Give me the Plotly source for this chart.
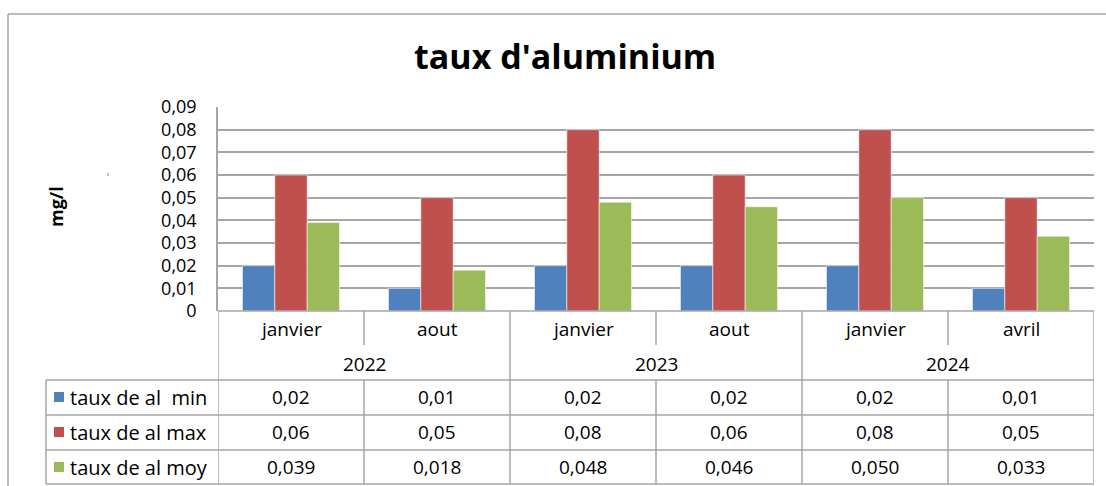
import re

import plotly.graph_objects as go

# données du graphique
years = ["2022", "2023", "2024"]
months = ["janvier", "aout", "janvier", "aout", "janvier", "avril"]
series_names = ["taux de al  min", "taux de al max", "taux de al moy"]
taux_min = [0.02, 0.01, 0.02, 0.02, 0.02, 0.01]
taux_max = [0.06, 0.05, 0.08, 0.06, 0.08, 0.05]
taux_moy = [0.039, 0.018, 0.048, 0.046, 0.050, 0.033]
decimals = [2, 2, 3]

COLORS = ["#4F81BD", "#C0504D", "#9BBB59"]
GRID = "#A6A6A6"
FONT = "Open Sans"
TXT = 19
W, H = 1106, 486


def px(xp):
    return xp / W


def py(yp):
    return (H - yp) / H


x_pos = list(range(len(months)))
fig = go.Figure()
for name, vals, col in zip(series_names, [taux_min, taux_max, taux_moy], COLORS):
    fig.add_trace(go.Bar(
        x=x_pos, y=vals, name=name,
        marker=dict(color=col, line=dict(color="rgba(255,255,255,0.55)", width=1)),
    ))

fig.update_layout(
    width=W, height=H,
    margin=dict(l=0, r=0, t=0, b=0, pad=0, autoexpand=False),
    paper_bgcolor="white", plot_bgcolor="white",
    separators=", ",
    showlegend=False,
    barmode="group", bargap=0.335, bargroupgap=0,
    font=dict(family=FONT, color="#000"),
    xaxis=dict(domain=[px(218), px(1094)], range=[-0.5, 5.5], automargin=False,
               showticklabels=False, showgrid=False, zeroline=False,
               showline=False),
    yaxis=dict(domain=[py(311), py(107)], range=[0, 0.09], dtick=0.01, automargin=False,
               tickformat=".2~f", showgrid=True, gridcolor=GRID, gridwidth=1.5,
               zeroline=False, showline=True, linecolor=GRID, linewidth=1.5,
               tickfont=dict(size=18, family=FONT), ticklabelstandoff=16),
    title=dict(text="<b>taux d'aluminium</b>", x=0.511, xanchor="center",
               y=py(57), yanchor="middle", font=dict(size=34, family=FONT)),
)

shapes = []
line = dict(color=GRID, width=1.5)
# cadre extérieur
shapes.append(dict(type="line", xref="paper", yref="paper", x0=px(8), x1=1.01,
                   y0=py(14), y1=py(14), line=line))
shapes.append(dict(type="line", xref="paper", yref="paper", x0=px(8), x1=px(8),
                   y0=py(14), y1=-0.01, line=line))
# petit trait isolé à gauche
shapes.append(dict(type="line", xref="paper", yref="paper", x0=px(108), x1=px(108),
                   y0=py(173), y1=py(176), line=dict(color="#888", width=1)))
# axe des catégories et lignes du tableau
shapes.append(dict(type="line", xref="x", yref="paper", x0=-0.5, x1=5.5,
                   y0=py(311), y1=py(311), line=line))
for yl in [380, 415, 450, 484]:
    shapes.append(dict(type="line", xref="paper", yref="paper", x0=px(46), x1=px(1094),
                       y0=py(yl), y1=py(yl), line=line))
# séparateurs verticaux
for xv in [-0.5, 1.5, 3.5, 5.5]:
    shapes.append(dict(type="line", xref="x", yref="paper", x0=xv, x1=xv,
                       y0=py(311), y1=py(484), line=line))
for xv in [0.5, 2.5, 4.5]:
    shapes.append(dict(type="line", xref="x", yref="paper", x0=xv, x1=xv,
                       y0=py(311), y1=py(345), line=line))
    shapes.append(dict(type="line", xref="x", yref="paper", x0=xv, x1=xv,
                       y0=py(380), y1=py(484), line=line))
shapes.append(dict(type="line", xref="paper", yref="paper", x0=px(46), x1=px(46),
                   y0=py(380), y1=py(484), line=line))

annotations = []
# axe Y
annotations.append(dict(text="<b>mg/l</b>", xref="paper", yref="paper",
                        x=px(56), y=py(207), textangle=-90, showarrow=False,
                        xanchor="center", yanchor="middle", font=dict(size=18)))
# mois et années
for i, m in enumerate(months):
    annotations.append(dict(text=m, xref="x", yref="paper", x=i, y=py(329),
                            xanchor="center", yanchor="middle",
                            showarrow=False, font=dict(size=TXT)))
for j, yr in enumerate(years):
    annotations.append(dict(text=yr, xref="x", yref="paper", x=2 * j + 0.5, y=py(364),
                            xanchor="center", yanchor="middle",
                            showarrow=False, font=dict(size=TXT)))
# tableau de données
row_y = [397, 432, 467]
for r, (name, vals, col, d) in enumerate(zip(series_names, [taux_min, taux_max, taux_moy],
                                             COLORS, decimals)):
    yc = row_y[r]
    shapes.append(dict(type="rect", xref="paper", yref="paper",
                       x0=px(54), x1=px(64), y0=py(yc - 5), y1=py(yc + 5),
                       fillcolor=col, line=dict(width=0)))
    annotations.append(dict(text=name.replace("  ", "&nbsp; "), xref="paper", yref="paper",
                            x=px(68), y=py(yc), xanchor="left", yanchor="middle",
                            showarrow=False, font=dict(size=20)))
    for i, v in enumerate(vals):
        annotations.append(dict(text=f"{v:.{d}f}".replace(".", ","), xref="x", yref="paper",
                                x=i, y=py(yc), xanchor="center", yanchor="middle",
                                showarrow=False, font=dict(size=TXT)))

fig.update_layout(shapes=shapes, annotations=annotations)
html_path = "out.html"
fig.write_html(html_path, config={"displayModeBar": False})

# marge du body à zéro pour que la figure tienne dans la fenêtre
with open(html_path, "r", encoding="utf-8") as f:
    content = f.read()
content = re.sub(r"<body[^>]*>", "<body style='margin:0;overflow:hidden'>", content, count=1)
with open(html_path, "w", encoding="utf-8") as f:
    f.write(content)
